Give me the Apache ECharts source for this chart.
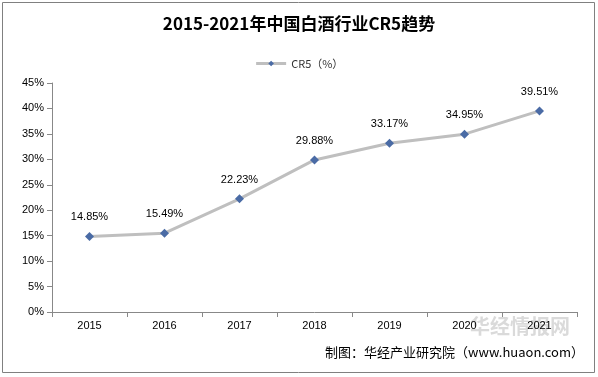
<!DOCTYPE html>
<html><head><meta charset="utf-8">
<script src="https://cdn.jsdelivr.net/npm/echarts@6/dist/echarts.min.js"></script>
<style>html,body{margin:0;padding:0;background:#fff}#c{width:598px;height:377px}</style>
</head><body><div id="c"></div>
<script>
var years = ['2015','2016','2017','2018','2019','2020','2021'];
var cr5 = [14.85, 15.49, 22.23, 29.88, 33.17, 34.95, 39.51];
var yTicks = [0,5,10,15,20,25,30,35,40,45];
var chart = echarts.init(document.getElementById('c'));
chart.setOption({
  animation:false,
  title:{text:'2015-2021年中国白酒行业CR5趋势', left:'center', top:10,
    textStyle:{fontFamily:'Noto Sans CJK SC', fontSize:17, fontWeight:'bold', color:'#000'}},
  legend:{top:53, left:'center', itemWidth:30, itemHeight:7, itemGap:4,
    data:[{name:'CR5（%）', itemStyle:{color:'#4A6BA5'}, lineStyle:{color:'#BFBFBF', width:3}}],
    textStyle:{fontFamily:'Noto Sans CJK SC', fontSize:11, color:'#333'}},
  grid:{left:52, right:21, top:83, bottom:65},
  xAxis:{type:'category', data:years, boundaryGap:true,
    axisLine:{lineStyle:{color:'#888'}}, axisTick:{show:true, alignWithLabel:false, lineStyle:{color:'#888'}},
    axisLabel:{color:'#000', fontFamily:'Liberation Sans', fontSize:11, margin:8}},
  yAxis:{type:'value', min:0, max:45, interval:5,
    axisLine:{show:true, lineStyle:{color:'#888'}}, axisTick:{show:true, lineStyle:{color:'#888'}},
    splitLine:{show:false},
    axisLabel:{formatter:'{value}%', color:'#000', fontFamily:'Liberation Sans', fontSize:11, margin:8}},
  series:[{name:'CR5（%）', type:'line', data:cr5, symbol:'diamond', symbolSize:9,
    lineStyle:{color:'#BFBFBF', width:3}, itemStyle:{color:'#4A6BA5'},
    label:{show:true, position:'top', distance:9, formatter:function(p){return p.value.toFixed(2)+'%';},
      color:'#000', fontFamily:'Liberation Sans', fontSize:11}}],
  graphic:[
    {type:'rect', shape:{x:2.5,y:2.5,width:592,height:370}, style:{fill:'none', stroke:'#808080', lineWidth:1}, z:-1},
    {type:'text', left:470, top:316, style:{text:'华经情报网', fill:'rgba(150,150,150,0.35)', font:'bold 20px "Noto Sans CJK SC"'}},
    {type:'text', right:14, top:346, style:{text:'制图：华经产业研究院（www.huaon.com）', fill:'#000', font:'13px "Noto Sans CJK SC"'}}
  ]
});
</script></body></html>
